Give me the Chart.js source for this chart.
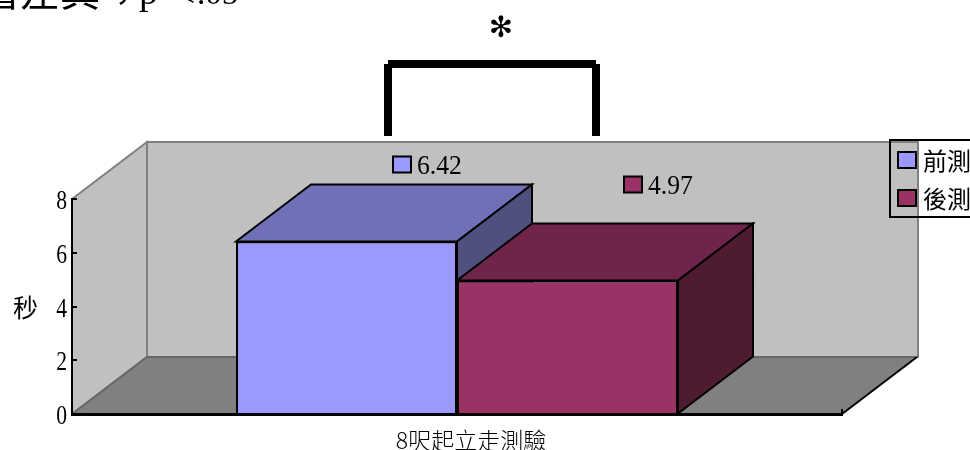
<!DOCTYPE html>
<html>
<head>
<meta charset="utf-8">
<title>8呎起立走測驗</title>
<style>
  html, body { margin: 0; padding: 0; background: #fff; overflow: hidden; }
  canvas { display: block; }
</style>
<script src="https://cdn.jsdelivr.net/npm/chart.js@4"></script>
</head>
<body>
<canvas id="chart" width="970" height="450"></canvas>
<script>
// Chart values
const categories = ['8呎起立走測驗'];
const seriesNames = ['前測', '後測'];
const preTest = [6.42];
const postTest = [4.97];
const yTicks = [0, 2, 4, 6, 8];
const yAxisTitle = '秒';
const significanceNote = ['著差異', '，', 'p', '<', '.05'];
const significanceMark = '✻';

// Colours: front, top and side faces of each series
const faces = [
  { front: '#9999ff', top: '#7070b8', side: '#50507f' },
  { front: '#993366', top: '#70244c', side: '#4e1b31' }
];
const serif = '"Liberation Serif", "Noto Sans CJK TC", serif';
const cjk = '"Noto Sans CJK TC", "Liberation Serif", serif';
const DX = 75, DY = -57;  // projection of the depth axis

function poly(ctx, pts, fill, stroke, lw) {
  ctx.beginPath();
  pts.forEach((p, i) => i ? ctx.lineTo(p[0], p[1]) : ctx.moveTo(p[0], p[1]));
  ctx.closePath();
  if (fill) { ctx.fillStyle = fill; ctx.fill(); }
  if (stroke) { ctx.strokeStyle = stroke; ctx.lineWidth = lw; ctx.lineJoin = 'miter'; ctx.stroke(); }
}

// Room behind the bars: back wall, left wall and floor
const roomPlugin = {
  id: 'room',
  beforeDatasetsDraw(chart) {
    const { ctx, chartArea: a } = chart;
    const { left: l, right: r, top: t, bottom: b } = a;
    ctx.save();
    poly(ctx, [[l + DX, t + DY], [r + DX + 1, t + DY], [r + DX + 1, b + DY], [l + DX, b + DY]], '#c0c0c0', '#808080', 2);
    poly(ctx, [[l, t], [l + DX, t + DY], [l + DX, b + DY], [l, b]], '#c0c0c0', '#808080', 2);
    poly(ctx, [[l, b], [l + DX, b + DY], [r + DX + 1, b + DY], [r, b]], '#808080', null);
    ctx.strokeStyle = '#666666';
    ctx.lineWidth = 2;
    ctx.beginPath();
    ctx.moveTo(l, b); ctx.lineTo(l + DX, b + DY); ctx.lineTo(r + DX + 1, b + DY);
    ctx.stroke();
    ctx.strokeStyle = '#000';
    ctx.beginPath();
    ctx.moveTo(r, b); ctx.lineTo(r + DX, b + DY);
    ctx.moveTo(r, b); ctx.lineTo(r, b - 5);
    ctx.stroke();

    // Top and side faces of every bar; the fronts are the library's own bars
    chart.data.datasets.forEach((ds, i) => {
      chart.getDatasetMeta(i).data.forEach(bar => {
        const x0 = bar.x - bar.width / 2, x1 = bar.x + bar.width / 2, y = bar.y, base = bar.base;
        poly(ctx, [[x0, y], [x0 + DX, y + DY], [x1 + DX, y + DY], [x1, y]], faces[i].top, '#000', 2);
        poly(ctx, [[x1, y], [x1 + DX, y + DY], [x1 + DX, base + DY], [x1, base]], faces[i].side, '#000', 2);
      });
    });
    ctx.restore();
  },
  afterDatasetsDraw(chart) {
    const { ctx } = chart;
    const yScale = chart.scales.y;
    const l = chart.chartArea.left;
    ctx.save();
    // Inward tick marks and condensed numerals on the value axis
    ctx.textBaseline = 'alphabetic';
    yScale.ticks.forEach(t => {
      const y = Math.round(yScale.getPixelForValue(t.value));
      ctx.strokeStyle = '#000';
      ctx.lineWidth = 2;
      ctx.beginPath();
      ctx.moveTo(l, y);
      ctx.lineTo(l + 5, y);
      ctx.stroke();
      ctx.save();
      ctx.translate(l - 5, y + 9.5);
      ctx.scale(0.8, 1);
      ctx.textAlign = 'right';
      ctx.fillStyle = '#000';
      ctx.font = '27px ' + serif;
      ctx.fillText(String(t.value), 0, 0);
      ctx.restore();
    });
    ctx.fillStyle = '#000';
    ctx.textAlign = 'left';
    ctx.font = '25px ' + cjk;
    ctx.fillText(yAxisTitle, 13, 317);

    // Value tags: swatch plus number, floating over each bar
    const tagOffsets = [{ dx: 46.5, dy: -77 }, { dx: 56.5, dy: -96 }];
    chart.data.datasets.forEach((ds, i) => {
      const bar = chart.getDatasetMeta(i).data[0];
      const x = bar.x + tagOffsets[i].dx, y = bar.y + tagOffsets[i].dy;
      poly(ctx, [[x, y - 8], [x + 18, y - 8], [x + 18, y + 8], [x, y + 8]], faces[i].front, '#000', 2);
      ctx.save();
      ctx.translate(x + 24, y + 10);
      ctx.scale(0.95, 1);
      ctx.fillStyle = '#000';
      ctx.font = '27px ' + serif;
      ctx.fillText(ds.data[0].toFixed(2), 0, 0);
      ctx.restore();
    });

    // Legend box, running off the right edge of the page
    ctx.strokeStyle = '#000';
    ctx.lineWidth = 2;
    ctx.strokeRect(890, 140, 100, 77);
    chart.data.datasets.forEach((ds, i) => {
      const y = 160 + i * 38;
      poly(ctx, [[898, y - 8], [916, y - 8], [916, y + 8], [898, y + 8]], faces[i].front, '#000', 2);
      ctx.fillStyle = '#000';
      ctx.font = '24px ' + cjk;
      ctx.fillText(ds.label, 923, y + 10);
    });

    // Significance bracket with its mark and note
    ctx.strokeStyle = '#000';
    ctx.lineWidth = 8;
    ctx.lineCap = 'butt';
    ctx.beginPath();
    ctx.moveTo(388, 136); ctx.lineTo(388, 64);
    ctx.moveTo(388, 64);  ctx.lineTo(596, 64);
    ctx.moveTo(596, 64);  ctx.lineTo(596, 136);
    ctx.stroke();
    ctx.textAlign = 'center';
    ctx.font = 'bold 29px "DejaVu Sans"';
    ctx.fillText(significanceMark, 501, 37);
    ctx.textAlign = 'left';
    const noteRuns = [
      { font: '40px "Noto Sans CJK TC"', x: -20, y: 6 },
      { font: '40px "Noto Sans CJK SC"', x: 114, y: 0 },
      { font: '38px "Liberation Serif"', x: 139, y: 4 },
      { font: '34px "Liberation Serif"', x: 176, y: 6 },
      { font: '33px "Liberation Serif"', x: 197, y: 4 }
    ];
    significanceNote.forEach((run, i) => {
      ctx.font = noteRuns[i].font;
      ctx.fillText(run, noteRuns[i].x, noteRuns[i].y);
    });
    ctx.restore();
  }
};

new Chart(document.getElementById('chart'), {
  type: 'bar',
  data: {
    labels: categories,
    datasets: [
      { label: seriesNames[0], data: preTest, backgroundColor: faces[0].front, borderColor: '#000', borderWidth: 2 },
      { label: seriesNames[1], data: postTest, backgroundColor: faces[1].front, borderColor: '#000', borderWidth: 2 }
    ]
  },
  options: {
    responsive: false,
    animation: false,
    layout: { padding: { left: 32, right: 128, top: 199, bottom: 0 } },
    plugins: { legend: { display: false }, tooltip: { enabled: false } },
    datasets: { bar: { barPercentage: 1, categoryPercentage: 0.574 } },
    scales: {
      x: {
        afterFit(s) { s.height = 36; },
        grid: { display: true, drawOnChartArea: false, drawTicks: false },
        border: { color: '#000', width: 3, z: 2 },
        ticks: { color: '#000', font: { family: cjk, size: 23, weight: 300 }, padding: 12, labelOffset: 14, maxRotation: 0 }
      },
      y: {
        min: 0,
        max: yTicks[yTicks.length - 1],
        afterFit(s) { s.width = 40; },
        afterBuildTicks(s) { s.ticks = yTicks.map(value => ({ value })); },
        grid: { display: true, drawOnChartArea: false, drawTicks: false },
        border: { color: '#000', width: 2, z: 2 },
        ticks: { display: false }
      }
    }
  },
  plugins: [roomPlugin]
});
</script>
</body>
</html>
